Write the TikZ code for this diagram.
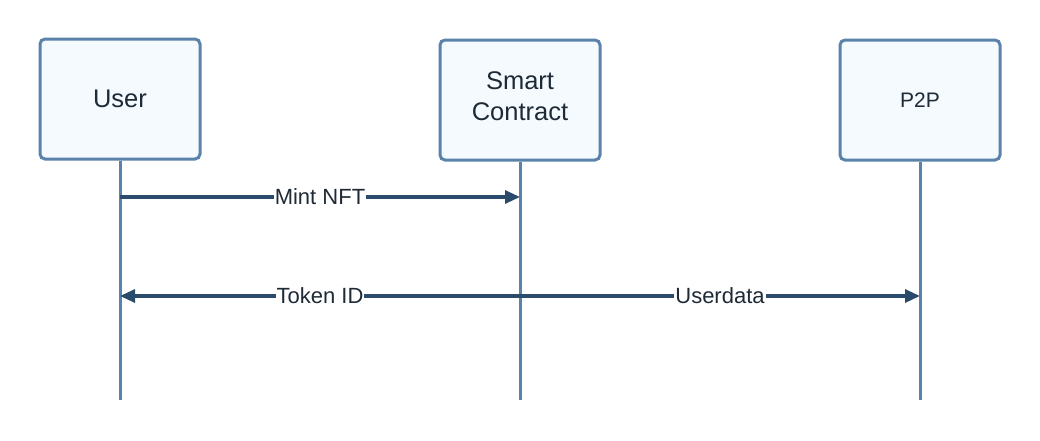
\documentclass[tikz,border=0pt]{standalone}
\usepackage{fontspec}
\setmainfont{Liberation Sans}
\usetikzlibrary{arrows.meta}
\definecolor{boxborder}{HTML}{5B82AA}
\definecolor{boxfill}{HTML}{F4FAFE}
\definecolor{arrowcol}{HTML}{2B4B6C}
\definecolor{textcol}{HTML}{1E2A36}
\tikzset{
  actor/.style={draw=boxborder, fill=boxfill, line width=3pt, rounded corners=5pt,
    minimum width=160pt, minimum height=120pt, inner sep=0pt, align=center,
    text=textcol, font=\fontsize{25.5}{31}\selectfont},
  actortext/.style={inner sep=0pt, align=center, text=textcol, font=\fontsize{25.5}{31}\selectfont},
  lifeline/.style={draw=boxborder, line width=3pt},
  msg/.style={draw=arrowcol, line width=3.2pt, -{Triangle[length=15pt,width=13pt]}},
  msglabel/.style={fill=white, inner sep=1pt, text=textcol, font=\fontsize{22}{24}\selectfont}
}
\begin{document}
\begin{tikzpicture}[x=1pt,y=-1pt]
\useasboundingbox (0,0) rectangle (1040,440);
\node[actor] (user) at (120,99) {User};
\node[actor] (sc) at (520,100) {};
\node[actortext] (sctext) at (520,96) {Smart\\Contract};
\node[actor, font=\fontsize{21}{24}\selectfont] (p2p) at (920,100) {P2P};
\coordinate (userEnd) at (120,400);
\coordinate (scEnd) at (520,400);
\coordinate (p2pEnd) at (920,400);
\draw[lifeline] (user.south) -- (userEnd);
\draw[lifeline] (sc.south) -- (scEnd);
\draw[lifeline] (p2p.south) -- (p2pEnd);
\coordinate (u1) at (120,197);
\coordinate (s1) at (520,197);
\coordinate (u2) at (120,296);
\coordinate (s2) at (520,296);
\coordinate (p2) at (920,296);
\draw[msg] (u1) -- node[msglabel, pos=0.5] {Mint NFT} (s1);
\draw[msg] (s2) -- node[msglabel, pos=0.5] {Token ID} (u2);
\draw[msg] (s2) -- node[msglabel, pos=0.5] {Userdata} (p2);
\end{tikzpicture}
\end{document}
